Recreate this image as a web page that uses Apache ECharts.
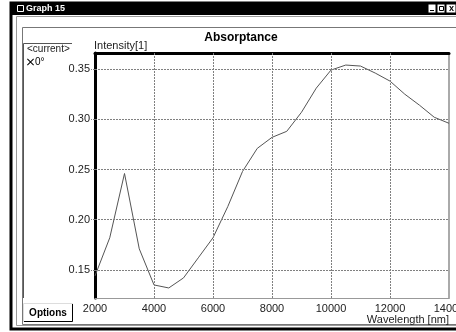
<!DOCTYPE html>
<html>
<head>
<meta charset="utf-8">
<script src="https://cdn.jsdelivr.net/npm/echarts@6/dist/echarts.min.js"></script>
<style>
  html, body { margin: 0; padding: 0; background: #fff; }
  #chart { width: 456px; height: 332px; }
</style>
</head>
<body>
<div id="chart"></div>
<script>
// absorptance spectrum
const wavelengths = [2000, 2500, 3000, 3500, 4000, 4500, 5000, 5500, 6000, 6500, 7000, 7500, 8000,
  8500, 9000, 9500, 10000, 10500, 11000, 11500, 12000, 12500, 13000, 13500, 14000];
const intensity = [0.144, 0.182, 0.246, 0.171, 0.135, 0.132, 0.142, 0.162, 0.182, 0.213, 0.248, 0.271, 0.282,
  0.288, 0.307, 0.331, 0.349, 0.354, 0.353, 0.346, 0.338, 0.325, 0.314, 0.302, 0.296];
const yTicks = [0.15, 0.20, 0.25, 0.30, 0.35];
const xGrid = [4000, 6000, 8000, 10000, 12000];

const FONT = '"Liberation Sans", Arial, sans-serif';
const gridDots = { color: '#808080', width: 1, type: [2, 1] };

const chart = echarts.init(document.getElementById('chart'));

const option = {
  animation: false,
  textStyle: { fontFamily: FONT },
  title: {
    text: 'Absorptance',
    left: 236,
    top: 27,
    textAlign: 'center',
    textStyle: { fontSize: 12, fontWeight: 'bold', color: '#000', fontFamily: FONT }
  },
  legend: {
    data: ['0°'],
    left: 22,
    top: 52,
    orient: 'vertical',
    itemWidth: 7,
    itemHeight: 7,
    itemGap: 2,
    icon: 'path://M0,1 L1,0 L5,4 L9,0 L10,1 L6,5 L10,9 L9,10 L5,6 L1,10 L0,9 L4,5 Z',
    textStyle: { fontSize: 10, color: '#000', fontFamily: FONT, padding: [-5, 0, 0, -4] },
    selectedMode: false
  },
  grid: { left: 95, right: 7, top: 53, bottom: 34, containLabel: false, outerBoundsMode: 'none' },
  xAxis: [
    {
      type: 'value',
      min: 2000,
      max: 14000,
      interval: 2000,
      name: 'Wavelength [nm]',
      nameLocation: 'end',
      nameGap: 0,
      nameMoveOverlap: false,
      nameTextStyle: { fontSize: 11, color: '#222', align: 'right', verticalAlign: 'top', padding: [16, 0, 0, 0], fontFamily: FONT },
      axisLine: { show: true, onZero: false, lineStyle: { color: '#999', width: 1 } },
      axisTick: { show: false },
      axisLabel: { fontSize: 11, color: '#222', margin: 5, fontFamily: FONT, formatter: (v) => String(v) },
      splitLine: { show: false }
    },
    {
      type: 'value',
      position: 'top',
      min: 2000,
      max: 14000,
      axisLine: { show: true, onZero: false, lineStyle: { color: '#000', width: 3 } },
      axisTick: { show: false },
      axisLabel: { show: false },
      splitLine: { show: false }
    }
  ],
  yAxis: [
    {
      type: 'value',
      min: 0.122,
      max: 0.366,
      name: 'Intensity[1]',
      nameLocation: 'end',
      nameGap: 2,
      nameTextStyle: { fontSize: 11, color: '#222', align: 'left', verticalAlign: 'bottom', padding: [0, 0, 0, -1], fontFamily: FONT },
      axisLine: { show: true, onZero: false, lineStyle: { color: '#000', width: 3 } },
      axisTick: { show: true, length: 4, customValues: yTicks, lineStyle: gridDots },
      axisLabel: {
        fontSize: 11, color: '#222', margin: 5, fontFamily: FONT,
        customValues: yTicks,
        formatter: (v) => v.toFixed(2)
      },
      splitLine: { show: false }
    },
    {
      type: 'value',
      position: 'right',
      min: 0.122,
      max: 0.366,
      axisLine: { show: true, onZero: false, lineStyle: { color: '#aaa', width: 2 } },
      axisTick: { show: false },
      axisLabel: { show: false },
      splitLine: { show: false }
    }
  ],
  series: [
    {
      name: '0°',
      type: 'line',
      data: wavelengths.map((w, i) => [w, intensity[i]]),
      symbol: 'none',
      itemStyle: { color: '#000' },
      lineStyle: { color: '#555', width: 1 },
      z: 3,
      markLine: {
        silent: true,
        symbol: 'none',
        label: { show: false },
        lineStyle: gridDots,
        data: [
          ...yTicks.map((v) => ({ yAxis: v })),
          ...xGrid.map((v) => ({ xAxis: v }))
        ]
      }
    }
  ],
  graphic: [
    // window frame
    { type: 'rect', shape: { x: 11, y: 3, width: 460, height: 326 }, style: { fill: '#fff', stroke: '#000', lineWidth: 3 }, z: -10 },
    { type: 'rect', shape: { x: 16.5, y: 16.5, width: 460, height: 309 }, style: { fill: 'none', stroke: '#999', lineWidth: 1 }, z: -9 },
    { type: 'rect', shape: { x: 22.5, y: 27.5, width: 460, height: 297 }, style: { fill: 'none', stroke: '#777', lineWidth: 1 }, z: -9 },
    // title bar
    { type: 'rect', shape: { x: 11, y: 3, width: 460, height: 12 }, style: { fill: '#000' }, z: -8 },
    { type: 'rect', shape: { x: 17.5, y: 5.5, width: 6, height: 6 }, style: { fill: 'none', stroke: '#fff', lineWidth: 1 }, z: -7 },
    { type: 'text', x: 26, y: 4, style: { text: 'Graph 15', fill: '#fff', font: 'bold 9px ' + FONT }, z: -7 },
    { type: 'rect', shape: { x: 428, y: 4, width: 8, height: 9 }, style: { fill: '#fff', stroke: '#000' }, z: -7 },
    { type: 'rect', shape: { x: 437, y: 4, width: 8, height: 9 }, style: { fill: '#fff', stroke: '#000' }, z: -7 },
    { type: 'rect', shape: { x: 446, y: 4, width: 10, height: 9 }, style: { fill: '#fff', stroke: '#000' }, z: -7 },
    { type: 'rect', shape: { x: 430, y: 10, width: 4, height: 1 }, style: { fill: '#000' }, z: -6 },
    { type: 'rect', shape: { x: 439.5, y: 6.5, width: 4, height: 4 }, style: { fill: 'none', stroke: '#000' }, z: -6 },
    { type: 'text', x: 449, y: 4, style: { text: 'x', fill: '#000', font: 'bold 9px ' + FONT }, z: -6 },
    // legend panel
    { type: 'polyline', shape: { points: [[23.5, 298], [23.5, 43.5], [72, 43.5]] }, style: { stroke: '#555', fill: 'none', lineWidth: 1 }, z: -5 },
    { type: 'text', x: 27, y: 44, style: { text: '<current>', fill: '#222', font: '10px ' + FONT }, z: -5 },
    // options button
    { type: 'rect', shape: { x: 23.5, y: 303.5, width: 49, height: 18 }, style: { fill: '#fff', stroke: '#ddd' }, z: -5 },
    { type: 'polyline', shape: { points: [[24, 321.5], [72.5, 321.5], [72.5, 304]] }, style: { stroke: '#000', fill: 'none', lineWidth: 1 }, z: -4 },
    { type: 'text', x: 48, y: 313, style: { text: 'Options', fill: '#000', font: 'bold 10px ' + FONT, align: 'center', verticalAlign: 'middle' }, z: -4 }
  ]
};

chart.setOption(option);
window.addEventListener('resize', () => chart.resize());
</script>
</body>
</html>
